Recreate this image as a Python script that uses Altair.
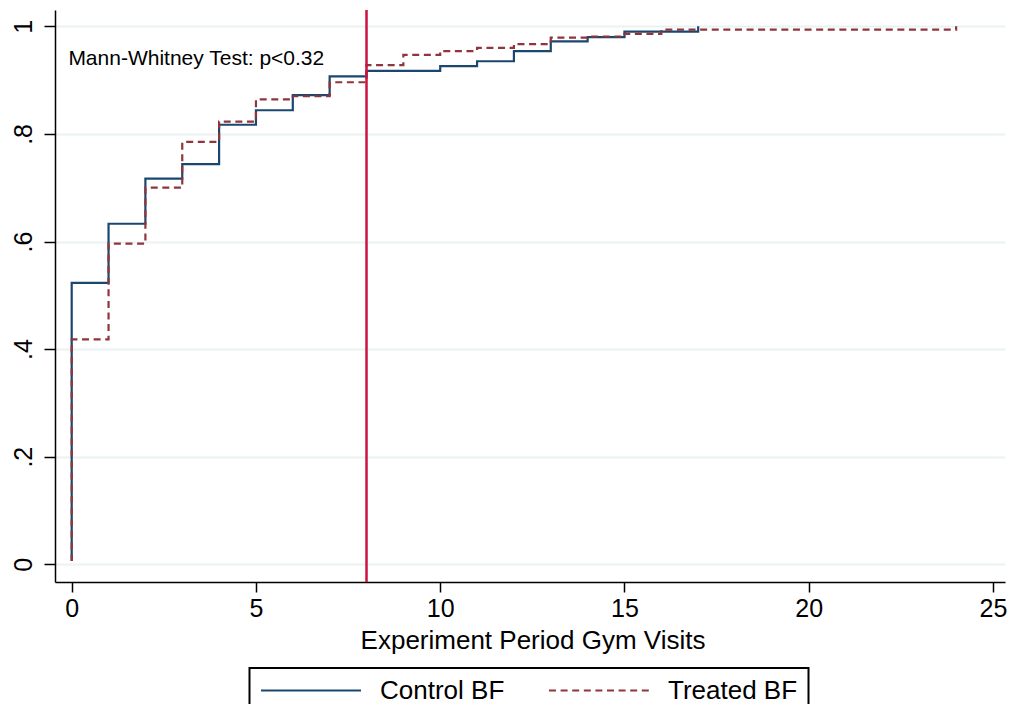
import altair as alt
import pandas as pd

FONT = "Liberation Sans, Arial, Helvetica, sans-serif"

control_visits = [0, 0, 1, 2, 3, 4, 5, 6, 7, 8, 10, 11, 12, 13, 14, 15, 17]
control_cdf = [0.006, 0.523, 0.633, 0.717, 0.744, 0.817, 0.844, 0.872, 0.907,
               0.917, 0.926, 0.935, 0.954, 0.972, 0.980, 0.990, 1.0]

treated_visits = [0, 0, 1, 2, 3, 4, 5, 6, 7, 8, 9, 10, 11, 12, 13, 14, 15, 16, 24]
treated_cdf = [0.006, 0.418, 0.596, 0.700, 0.785, 0.823, 0.864, 0.870, 0.896,
               0.928, 0.947, 0.954, 0.960, 0.967, 0.979, 0.981, 0.986, 0.994, 1.0]

groups = ["Control BF", "Treated BF"]
colors = ["#1A476F", "#90353B"]
dashes = [[1, 0], [7, 4.6]]

x_ticks = [0, 5, 10, 15, 20, 25]
y_ticks = [0, 0.2, 0.4, 0.6, 0.8, 1]

cutoff = [8]
note = ["Mann-Whitney Test: p<0.32"]

rows = []
for i, (v, c) in enumerate(zip(control_visits, control_cdf)):
    rows.append({"visits": v, "cdf": c, "group": groups[0], "idx": i})
for i, (v, c) in enumerate(zip(treated_visits, treated_cdf)):
    rows.append({"visits": v, "cdf": c, "group": groups[1], "idx": i})
df = pd.DataFrame(rows)

legend = alt.Legend(
    title=None, orient="none", legendX=194.5, legendY=658,
    direction="horizontal", padding=10.5, strokeColor="black",
    symbolType="stroke", symbolSize=10000, symbolStrokeWidth=2,
    labelFontSize=26, labelFont=FONT, labelColor="black",
    labelOffset=18, columnPadding=43, clipHeight=24,
)

x_enc = alt.X(
    "visits:Q",
    scale=alt.Scale(domain=[-0.453, 25.326], nice=False, zero=False),
    axis=alt.Axis(
        values=x_ticks, title="Experiment Period Gym Visits", grid=False,
        labelFontSize=25, tickSize=10, tickWidth=1.5, domainWidth=1.5,
        labelPadding=4.5, titleFontSize=26, titleFontWeight="normal",
        titleBaseline="alphabetic", titleY=66.3, titleX=477.5,
    ),
)
y_enc = alt.Y(
    "cdf:Q",
    scale=alt.Scale(domain=[-0.0329, 1.0303], nice=False, zero=False),
    axis=alt.Axis(
        values=y_ticks, title=None, grid=True, gridColor="#EAF2F3", gridWidth=2,
        labelFontSize=25, labelAngle=270, labelAlign="center",
        labelBaseline="alphabetic", labelPadding=13, tickSize=11,
        tickWidth=1.5, domainWidth=1.5,
        labelExpr="replace(format(datum.value, '.1~f'), '0.', '.')",
    ),
)
color_enc = alt.Color("group:N", scale=alt.Scale(domain=groups, range=colors), legend=legend)
dash_enc = alt.StrokeDash("group:N", scale=alt.Scale(domain=groups, range=dashes), legend=legend)


def series(name):
    return (
        alt.Chart(df)
        .transform_filter(alt.datum.group == name)
        .mark_line(interpolate="step-after", strokeWidth=2.2)
        .encode(x=x_enc, y=y_enc, color=color_enc, strokeDash=dash_enc,
                order=alt.Order("idx:Q"))
    )


rule = alt.Chart(pd.DataFrame({"cut": cutoff})).mark_rule(
    color="#CE1240", strokeWidth=2.5
).encode(x=alt.X("cut:Q"))

text = alt.Chart(pd.DataFrame({"note": note})).mark_text(
    align="left", baseline="alphabetic", fontSize=21, font=FONT, color="black"
).encode(x=alt.datum(-0.09), y=alt.datum(0.928), text="note:N")

chart = (
    alt.layer(series(groups[0]), series(groups[1]), rule, text)
    .properties(
        width=950, height=572,
        autosize=alt.AutoSizeParams(type="none"),
        padding={"left": 47, "top": 2, "right": 2, "bottom": 122},
        background="white",
    )
    .configure_axis(labelFont=FONT, titleFont=FONT, labelColor="black",
                    titleColor="black", domainColor="black", tickColor="black")
    .configure_legend(strokeWidth=2)
    .configure_view(strokeWidth=0)
)

chart.save("out.html", embed_options={"renderer": "svg", "actions": False})
